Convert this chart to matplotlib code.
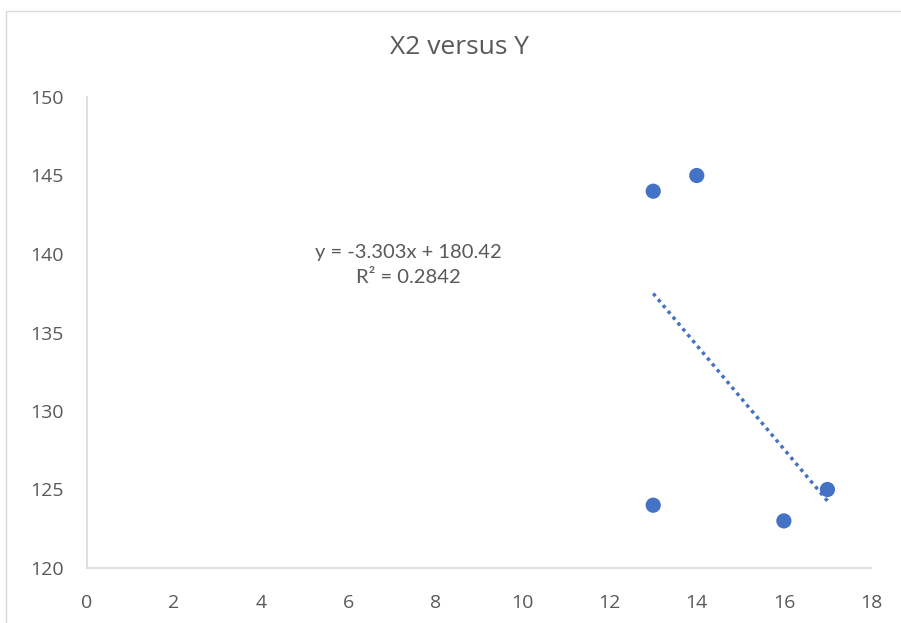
import matplotlib
matplotlib.use("Agg")
import matplotlib.pyplot as plt
import numpy as np
from matplotlib.patches import Rectangle

x_vals = [13, 14, 13, 16, 17]
y_vals = [144, 145, 124, 123, 125]
x_ticks = [0, 2, 4, 6, 8, 10, 12, 14, 16, 18]
y_ticks = [120, 125, 130, 135, 140, 145, 150]
title = "X2 versus Y"

blue = "#4472C4"
gray = "#595959"

fig = plt.figure(figsize=(9.01, 6.23), dpi=100)
fig.patches.append(Rectangle((6/901, -0.01), 1.0, 1 - 11/623 + 0.01, transform=fig.transFigure,
                             fill=False, edgecolor="#D9D9D9", linewidth=1.0))
ax = fig.add_axes([87/901, 1 - 568/623, 784/901, (568 - 97)/623])

ax.scatter(x_vals, y_vals, s=120, color=blue, zorder=3, edgecolors="none")

slope, intercept = np.polyfit(x_vals, y_vals, 1)
pred = np.polyval([slope, intercept], x_vals)
r2 = 1 - np.sum((np.array(y_vals) - pred) ** 2) / np.sum((np.array(y_vals) - np.mean(y_vals)) ** 2)
xs = np.array([min(x_vals), max(x_vals)])
ax.plot(xs, slope * xs + intercept, linestyle=(0, (1, 1.2)), color=blue, linewidth=2.5, zorder=2)

ax.text(7.37, 139.3, f"y = {slope:.3f}x + {intercept:.2f}\nR² = {r2:.4f}", ha="center", va="center",
        fontsize=14.5, color=gray, family=["Lato", "DejaVu Sans"], linespacing=1.6)

ax.set_xlim(0, 18)
ax.set_ylim(120, 150)
ax.set_xticks(x_ticks)
ax.set_yticks(y_ticks)
ax.tick_params(length=0, labelsize=14, colors=gray)
ax.tick_params(axis="x", pad=19)
ax.tick_params(axis="y", pad=17)
for lab in ax.get_xticklabels() + ax.get_yticklabels():
    lab.set_family("Open Sans")
for s in ["top", "right"]:
    ax.spines[s].set_visible(False)
for s in ["left", "bottom"]:
    ax.spines[s].set_color("#D9D9D9")
    ax.spines[s].set_linewidth(1.2)

fig.text(460/901, 1 - 47/623, title, ha="center", va="center", fontsize=19, color=gray, family="Open Sans")

fig.savefig("out.png", dpi=100)
